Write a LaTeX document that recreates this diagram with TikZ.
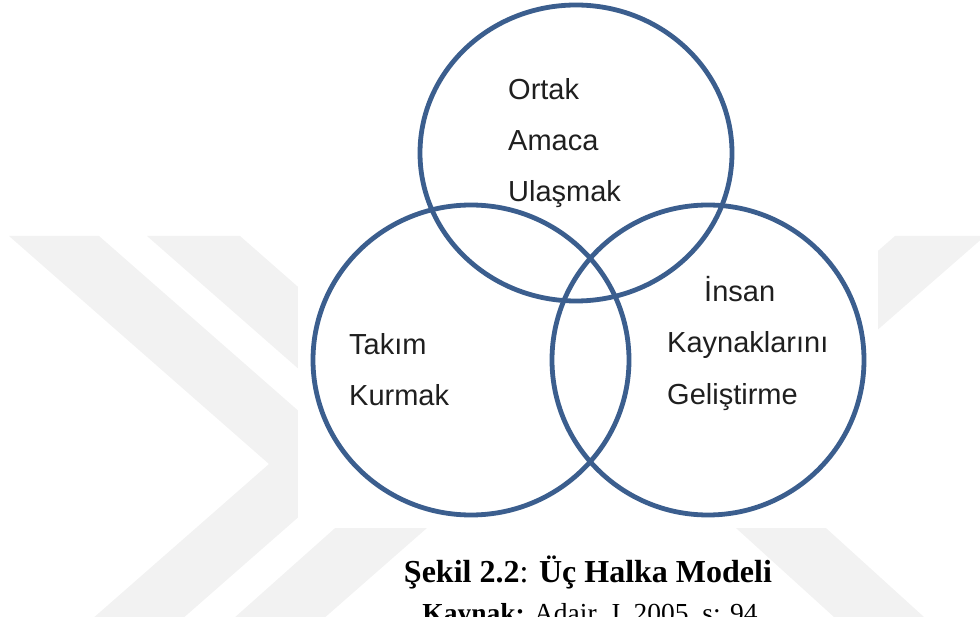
\documentclass[tikz,border=0pt]{standalone}
\usepackage{fontspec}
\setmainfont{Liberation Serif}
\newfontfamily\arialfont{Liberation Sans}

\definecolor{ringcolor}{HTML}{3B5E8E}
\definecolor{wmgray}{HTML}{F2F2F2}

\begin{document}
\begin{tikzpicture}[x=1pt, y=-1pt,
		ring/.style={ringcolor, line width=4.8pt},
		ringtext/.style={anchor=base west, inner sep=0pt, text=black!88,
			font=\arialfont\fontsize{29}{35}\selectfont},
		wmark/.style={fill=wmgray}
		]
		
		% 画面范围
		\useasboundingbox (0,0) rectangle (980,617);
		\clip (0,0) rectangle (980,617);
		
		% 水印
		\fill[wmark] (9,236) -- (99,236) -- (359,464) -- (173,627) -- (83,627) -- (269,464) -- cycle;
		\fill[wmark] (147,236) -- (240,236) -- (500,464) -- (314,627) -- (224,627) -- (407,464) -- cycle;
		\fill[wmark] (985,236) -- (895,236) -- (650,450) -- (845,627) -- (935,627) -- (740,450) -- cycle;
		\fill[white] (298,0) rectangle (878,528);
		
		% 圆心
		\coordinate (T) at (576,153);
		\coordinate (L) at (471,360);
		\coordinate (R) at (708,360);
		
		% 三个圆
		\draw[ring] (T) ellipse [x radius=156, y radius=148];
		\draw[ring] (L) ellipse [x radius=158, y radius=155];
		\draw[ring] (R) ellipse [x radius=156, y radius=155];
		
		% 圆内文字
		\node[ringtext] (ortak) at (508,100) {Ortak};
		\node[ringtext] (amaca) at (508,151) {Amaca};
		\node[ringtext] (ulasmak) at (508,202) {Ulaşmak};
		\node[ringtext] (takim) at (349,355) {Takım};
		\node[ringtext] (kurmak) at (349,406) {Kurmak};
		\node[ringtext] (insan) at (704,302) {İnsan};
		\node[ringtext] (kaynak) at (667,353) {Kaynaklarını};
		\node[ringtext] (gelistirme) at (667,405) {Geliştirme};
		
		% 图题
		\node[anchor=base, inner sep=0pt, font=\fontsize{32}{38}\selectfont]
			(caption) at (588,582) {\textbf{Şekil 2.2}: \textbf{Üç Halka Modeli}};
		\node[anchor=base, inner sep=0pt, font=\fontsize{27.5}{33}\selectfont]
			(source) at (590,622) {\textbf{Kaynak:} Adair, J. 2005, s: 94};
		
	\end{tikzpicture}
\end{document}
